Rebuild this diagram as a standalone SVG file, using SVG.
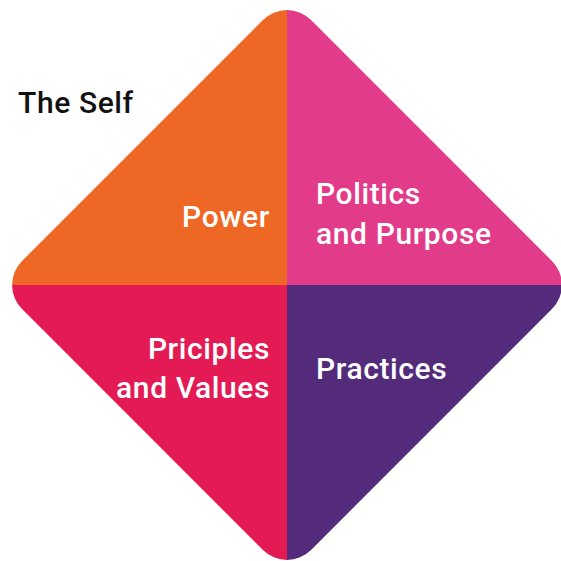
<svg xmlns="http://www.w3.org/2000/svg" width="561" height="561" viewBox="0 0 561 561">
  <style>
    .lbl { font-family: Roboto, "Liberation Sans", sans-serif; font-weight: 500; font-size: 30px; fill: #ffffff; letter-spacing: 0.6px; }
    .title { font-family: Roboto, "Liberation Sans", sans-serif; font-weight: 500; font-size: 30px; fill: #111111; letter-spacing: 0.6px; }
  </style>
  <defs>
    <clipPath id="diamond">
      <rect x="82.66" y="80.66" width="408.7" height="408.7" rx="34" ry="34" transform="rotate(45 287 285)"/>
    </clipPath>
  </defs>
  <rect width="561" height="561" fill="#ffffff"/>
  <g clip-path="url(#diamond)">
    <g id="power"><rect x="0" y="0" width="287" height="285" fill="#EF6724"/></g>
    <g id="politics"><rect x="287" y="0" width="290" height="285" fill="#E23B89"/></g>
    <g id="principles"><rect x="0" y="285" width="287" height="290" fill="#E31A54"/></g>
    <g id="practices"><rect x="287" y="285" width="290" height="290" fill="#532B7A"/></g>
  </g>
  <g id="labels">
    <text class="title" x="18" y="113">The Self</text>
    <text class="lbl" x="270" y="227" text-anchor="end">Power</text>
    <text class="lbl" x="316" y="204">Politics</text>
    <text class="lbl" x="316" y="244">and Purpose</text>
    <text class="lbl" x="270" y="359" text-anchor="end">Priciples</text>
    <text class="lbl" x="270" y="398" text-anchor="end">and Values</text>
    <text class="lbl" x="316" y="379">Practices</text>
  </g>
  <g id="connectors"/>
</svg>
